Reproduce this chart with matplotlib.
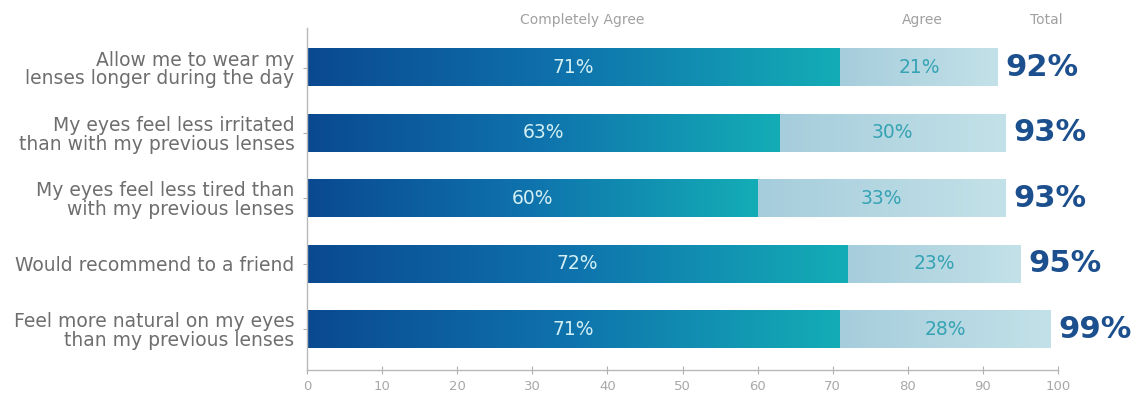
import numpy as np
import matplotlib
matplotlib.use('Agg')
import matplotlib.pyplot as plt
from matplotlib.colors import LinearSegmentedColormap
import matplotlib.transforms as mtransforms

statements = ['Allow me to wear my\nlenses longer during the day',
              'My eyes feel less irritated\nthan with my previous lenses',
              'My eyes feel less tired than\nwith my previous lenses',
              'Would recommend to a friend',
              'Feel more natural on my eyes\nthan my previous lenses']
completely_agree = [71, 63, 60, 72, 71]
agree = [21, 30, 33, 23, 28]
total = [92, 93, 93, 95, 99]
xticks = [0, 10, 20, 30, 40, 50, 60, 70, 80, 90, 100]

dark_cmap = LinearSegmentedColormap.from_list('ca', ['#0a4990', '#0f74ad', '#14adb6'])
light_cmap = LinearSegmentedColormap.from_list('ag', ['#a6cddc', '#c3e1e8'])
grad = np.linspace(0, 1, 256).reshape(1, -1)

fig = plt.figure(figsize=(11.47, 3.99), dpi=100)
ax = fig.add_axes([0.2677, 0.0727, 0.9224 - 0.2677, 0.857])

h = 0.58
for i in range(len(statements)):
    ca = completely_agree[i]
    ag = agree[i]
    # gradient bars
    ax.imshow(grad, extent=[0, ca, i + h / 2, i - h / 2], cmap=dark_cmap,
              aspect='auto', interpolation='bicubic', zorder=2)
    ax.imshow(grad, extent=[ca, ca + ag, i + h / 2, i - h / 2], cmap=light_cmap,
              aspect='auto', interpolation='bicubic', zorder=2)
    ax.text(ca / 2, i, '%d%%' % ca, ha='center', va='center', color='#d2eff4',
            fontsize=13.5, zorder=3)
    ax.text(ca + ag / 2, i, '%d%%' % ag, ha='center', va='center', color='#36a3b4',
            fontsize=13.5, zorder=3)
    ax.text(total[i] + 1, i, '%d%%' % total[i], ha='left', va='center',
            color='#1c4f8d', fontsize=22, fontweight='heavy', zorder=3, clip_on=False)

ax.set_xlim(0, 100)
ax.set_ylim(4.627, -0.604)
ax.set_xticks(xticks)
ax.set_xticklabels([str(t) for t in xticks], color='#a8a8a8', fontsize=9.5)
ax.set_yticks(range(len(statements)))
ax.set_yticklabels(statements, color='#6e6e6e', fontsize=13.5, linespacing=0.98)
ax.tick_params(axis='x', direction='inout', length=6, color='#b0b0b0', pad=4)
ax.tick_params(axis='y', direction='out', length=3, color='#b0b0b0', pad=6)
for s in ['top', 'right']:
    ax.spines[s].set_visible(False)
for s in ['left', 'bottom']:
    ax.spines[s].set_color('#b8b8b8')
    ax.spines[s].set_linewidth(1.0)

trans = mtransforms.blended_transform_factory(ax.transData, ax.transAxes)
ax.text(36.7, 1.025, 'Completely Agree', transform=trans, ha='center', va='center',
        color='#a0a0a0', fontsize=10)
ax.text(81.9, 1.025, 'Agree', transform=trans, ha='center', va='center',
        color='#a0a0a0', fontsize=10)
ax.text(98.4, 1.025, 'Total', transform=trans, ha='center', va='center',
        color='#a0a0a0', fontsize=10)

fig.savefig('out.png', dpi=100, facecolor='white')
